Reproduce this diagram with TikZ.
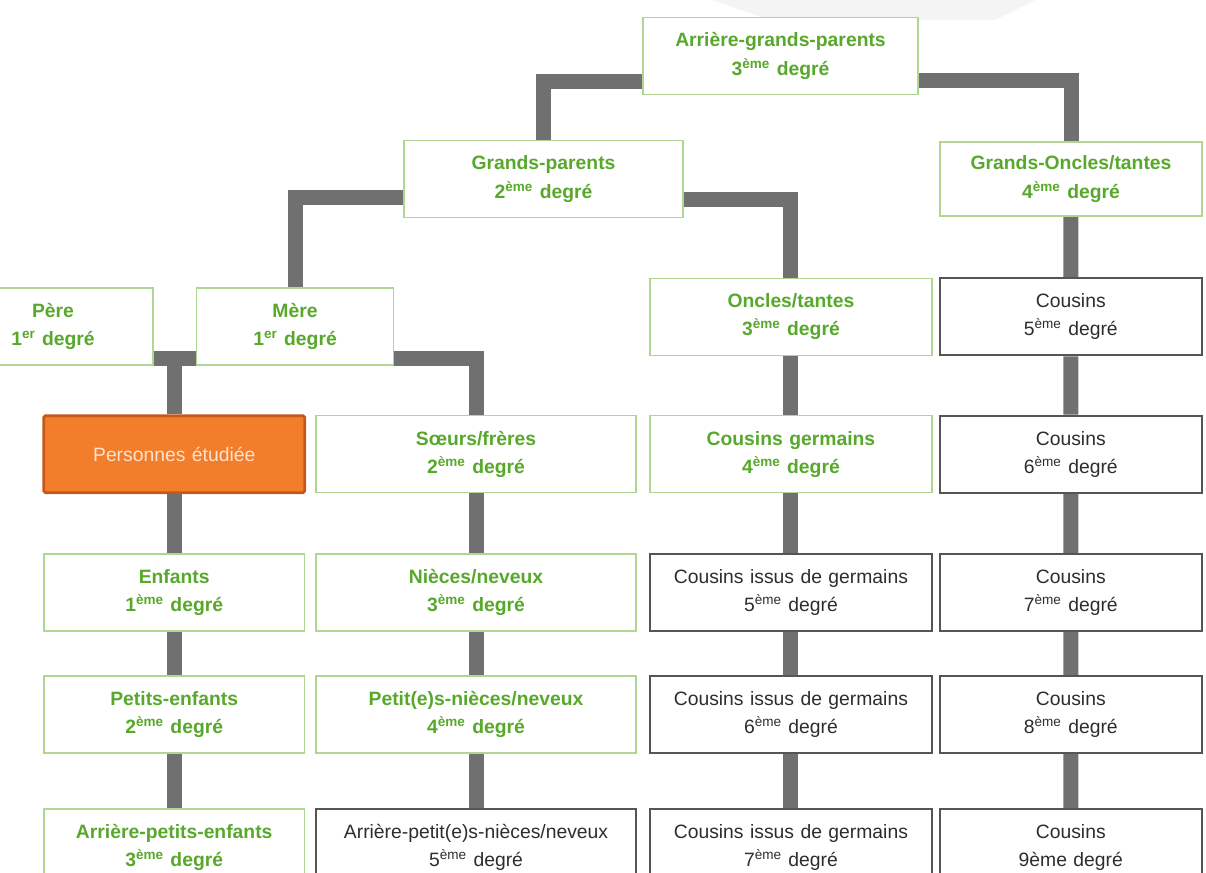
\documentclass[tikz,border=0pt]{standalone}
\usepackage{fontspec}
\setmainfont{Liberation Sans}
\usetikzlibrary{matrix,positioning,backgrounds}
\definecolor{vertdeg}{RGB}{88,168,44}
\definecolor{vertbord}{RGB}{176,214,148}
\definecolor{grisbord}{RGB}{85,85,85}
\definecolor{gristexte}{RGB}{45,45,45}
\definecolor{grislien}{RGB}{112,112,112}
\definecolor{orangefond}{RGB}{242,125,42}
\definecolor{orangebord}{RGB}{196,88,26}
\definecolor{orangetexte}{RGB}{253,226,206}
\tikzset{mycolumn/.style args = {(#1,#2)}{%
		column #1/.style={nodes={text width=#2}}}}
\tikzset{mycell/.style args = {(#1,#2,#3)}{%
		row #1 column #2/.style={nodes={#3}}}}
\tikzset{% boxes and links of the tree
	greybox/.style={draw=grisbord, line width=1.1pt, fill=white, text=gristexte, align=center,
		inner sep=0pt, minimum height=1.54cm, font=\fontsize{11}{16}\selectfont},
	greenbox/.style={greybox, draw=vertbord, line width=.9pt, text=vertdeg,
		font=\fontsize{11}{16}\selectfont\bfseries},
	studybox/.style={greybox, draw=orangebord, line width=1.6pt, fill=orangefond,
		text=orangetexte, rounded corners=1pt},
	link/.style={draw=grislien, line width=.3cm}
}
\begin{document}
\begin{tikzpicture}[x=0.02cm, y=-0.02cm, ampersand replacement=\&]
		\useasboundingbox (0,0) rectangle (1206,872);
		\fill[gray!9] (712,0) -- (1035,0) -- (995,20) -- (770,20) -- cycle;
		
		\node[greenbox, text width=5.5cm] (agp) at (780.5,56) {Arrière-grands-parents\\3\textsuperscript{ème} degré};
		\node[greenbox, text width=5.58cm] (gp) at (543.5,179) {Grands-parents\\2\textsuperscript{ème} degré};
		\node[greenbox, text width=5.24cm, minimum height=1.48cm] (got) at (1071,179) {Grands-Oncles/tantes\\4\textsuperscript{ème} degré};
		\node[greenbox, text width=4cm] (pere) at (53,326.5) {Père\\1\textsuperscript{er} degré};
		\node[greenbox, text width=3.94cm, right=.84cm of pere] (mere) {Mère\\1\textsuperscript{er} degré};
		
		\matrix (am) [matrix of nodes, anchor=north west, inner sep=0pt, column sep=0pt, row sep=0pt,
		nodes={greybox, anchor=center},
		mycolumn/.list={(1,5.22cm),(2,6.4cm),(3,5.64cm),(4,5.24cm)},
		mycell/.list={(1,3,greenbox),(2,1,studybox),(2,2,greenbox),(2,3,greenbox),(3,1,greenbox),(3,2,greenbox),(4,1,greenbox),(4,2,greenbox),(5,1,greenbox)}
		] at (42,277)
		{
			\&[.18cm] \&[.24cm] {Oncles/tantes\\3\textsuperscript{ème} degré} \&[.12cm] {Cousins\\5\textsuperscript{ème} degré} \\[1.16cm]
			Personnes étudiée \&[.18cm] {Sœurs/frères\\2\textsuperscript{ème} degré} \&[.24cm] {Cousins germains\\4\textsuperscript{ème} degré} \&[.12cm] {Cousins\\6\textsuperscript{ème} degré} \\[1.18cm]
			{Enfants\\1\textsuperscript{ème} degré} \& {Nièces/neveux\\3\textsuperscript{ème} degré} \& {Cousins issus de germains\\5\textsuperscript{ème} degré} \& {Cousins\\7\textsuperscript{ème} degré} \\[.86cm]
			{Petits-enfants\\2\textsuperscript{ème} degré} \& {Petit(e)s-nièces/neveux\\4\textsuperscript{ème} degré} \& {Cousins issus de germains\\6\textsuperscript{ème} degré} \& {Cousins\\8\textsuperscript{ème} degré} \\[1.08cm]
			{Arrière-petits-enfants\\3\textsuperscript{ème} degré} \& {Arrière-petit(e)s-nièces/neveux\\5\textsuperscript{ème} degré} \& {Cousins issus de germains\\7\textsuperscript{ème} degré} \& {Cousins\\9ème degré} \\
		};
		
		\begin{scope}[on background layer]
			\draw[link] ([yshift=.28cm]agp.south west) -| (gp.north);
			\draw[link] ([yshift=.3cm]agp.south east) -| (got.north);
			\draw[link] ([yshift=.42cm]gp.south west) -| (mere.north);
			\draw[link] ([yshift=.38cm]gp.south east) -| (am-1-3.north);
			\draw[link] ([yshift=.14cm]pere.south east) -- ([yshift=.14cm]mere.south west);
			\draw[link] ([yshift=.14cm]pere.south east) -| (am-2-1.north);
			\draw[link] ([yshift=.14cm]mere.south east) -| (am-2-2.north);
			\draw[link] (am-2-1) -- (am-3-1) -- (am-4-1) -- (am-5-1);
			\draw[link] (am-2-2) -- (am-3-2) -- (am-4-2) -- (am-5-2);
			\draw[link] (am-1-3) -- (am-2-3) -- (am-3-3) -- (am-4-3) -- (am-5-3);
			\draw[link] (got) -- (am-1-4) -- (am-2-4) -- (am-3-4) -- (am-4-4) -- (am-5-4);
		\end{scope}
\end{tikzpicture}
\end{document}
